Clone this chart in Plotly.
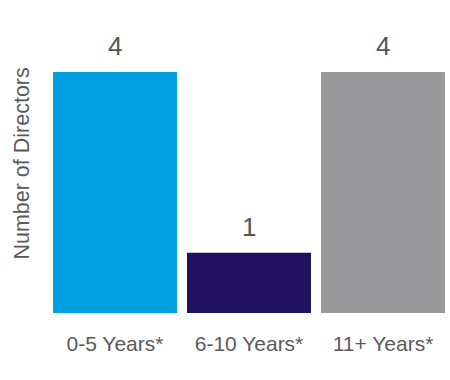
import plotly.graph_objects as go

categories = ["0-5 Years*", "6-10 Years*", "11+ Years*"]
values = [4, 1, 4]
colors = ["#009FDF", "#201060", "#98989A"]
y_title = "Number of Directors"

FONT = "Liberation Sans, Arial, sans-serif"

fig = go.Figure(go.Bar(
    x=categories, y=values, marker=dict(color=colors, line=dict(width=0)),
    hoverinfo="skip",
))

for c, v in zip(categories, values):
    fig.add_annotation(x=c, y=v, text=str(v), showarrow=False, yanchor="bottom",
                       yshift=9, font=dict(family=FONT, size=26, color="#555555"))

fig.add_annotation(xref="paper", yref="paper", x=0, xanchor="center", xshift=-26,
                   y=0.62, yanchor="middle",
                   text=y_title, textangle=-90, showarrow=False,
                   font=dict(family=FONT, size=21.5, color="#5a5a5a"))

fig.update_layout(
    width=450, height=380,
    margin=dict(l=48, r=0, t=72, b=67, autoexpand=False),
    paper_bgcolor="white", plot_bgcolor="white",
    bargap=0.075, showlegend=False,
    font=dict(family=FONT, color="#555555"),
)
fig.update_xaxes(showline=False, showgrid=False, ticks="", automargin=False,
                 ticklabelstandoff=16, tickfont=dict(size=21, color="#5a5a5a"))
fig.update_yaxes(range=[0, 4], showticklabels=False, showgrid=False, zeroline=False,
                 showline=False, ticks="", automargin=False)

fig.write_html("out.html", config={"displayModeBar": False},
               post_script="document.body.style.margin='0';")
